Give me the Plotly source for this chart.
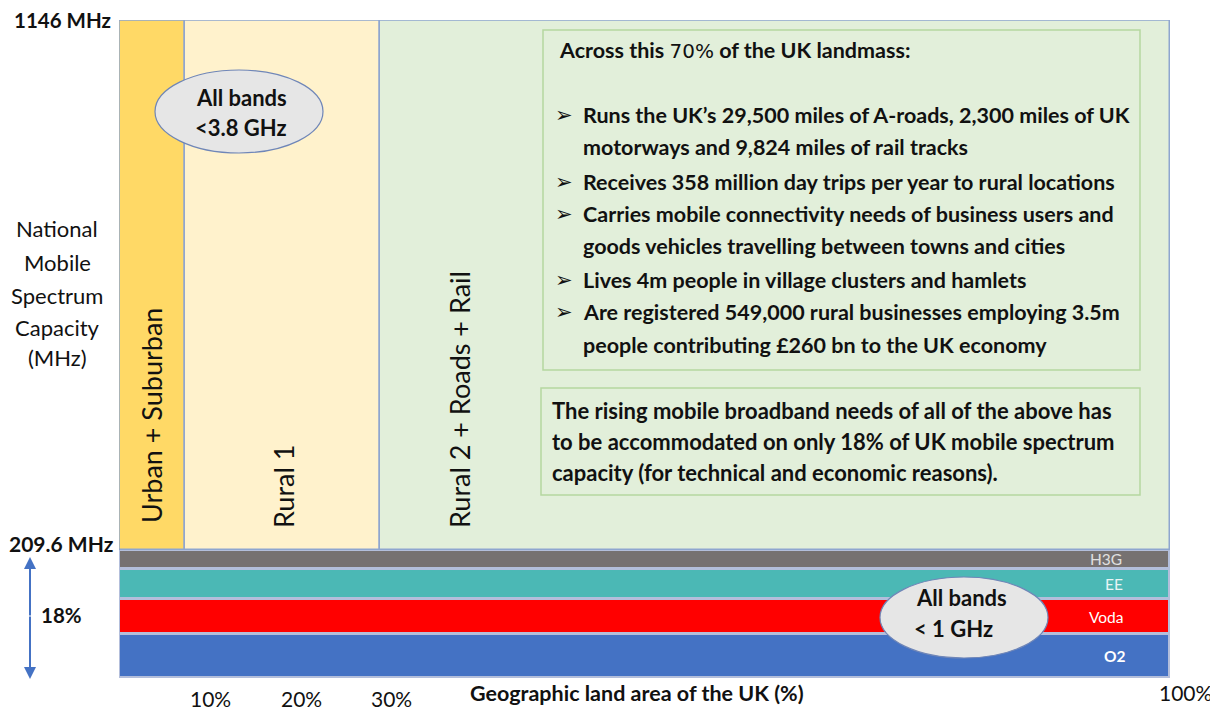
import plotly.graph_objects as go

# ---------------- data ----------------
regions = ["Urban + Suburban", "Rural 1", "Rural 2 + Roads + Rail"]
region_start = [0.0, 6.3, 24.8]          # % of UK land area
region_end = [6.3, 24.8, 100.0]
region_colors = ["#FFD966", "#FFF2CC", "#E2EFDA"]

cap_low = 209.6      # MHz (sub-1 GHz)
cap_high = 1146.0    # MHz (all bands < 3.8 GHz)

operators = ["O2", "Voda", "EE", "H3G"]            # bottom to top
operator_mhz = [72.0, 57.3, 50.0, 30.3]
operator_colors = ["#4472C4", "#FF0000", "#4BB8B5", "#767171"]
operator_text_colors = ["#FFFFFF", "#FFFFFF", "#E8F4F4", "#E0E0E0"]

tick_labels = ["10%", "20%", "30%", "100%"]

bullets = [
    "Runs the UK\u2019s 29,500 miles of A-roads, 2,300 miles of UK",
    "motorways and 9,824 miles of rail tracks",
    "Receives 358 million day trips per year to rural locations",
    "Carries mobile connectivity needs of business users and",
    "goods vehicles travelling between towns and cities",
    "Lives 4m people in village clusters and hamlets",
    "Are registered 549,000 rural businesses employing 3.5m",
    "people contributing \u00a3260 bn to the UK economy",
]
bullet_marks = [True, False, True, True, False, True, True, False]
note_lines = [
    "The rising mobile broadband needs of all of the above has",
    "to be accommodated on only 18% of UK mobile spectrum",
    "capacity (for technical and economic reasons).",
]

# ---------------- layout geometry ----------------
W, H = 1218, 713
OX, OY = 8, 8                     # page body margin offset
PL, PR, PT, PB = 119, 1170, 20, 678   # plot area in screen pixels
L, T = PL - OX, PT - OY
R = W - (PR - OX)
B = H - (PB - OY)
PW, PH = PR - PL, PB - PT
split_px = 550
split = (PB - split_px) / PH

def px(x):
    return (x - PL) / PW

def py(y):
    return (PB - y) / PH

FONT = "Lato"
INK = "#111111"

fig = go.Figure()

# upper regions
for name, s, e, c in zip(regions, region_start, region_end, region_colors):
    fig.add_trace(go.Bar(
        x=[(s + e) / 2], width=[e - s], base=[cap_low], y=[cap_high - cap_low],
        marker=dict(color=c, line=dict(color="#8FA6CF", width=1.5)),
        cliponaxis=False,
        yaxis="y", xaxis="x", showlegend=False, hoverinfo="skip", name=name))

# operator bands
base = 0.0
band_centers = []
for op, v, c in zip(operators, operator_mhz, operator_colors):
    fig.add_trace(go.Bar(
        x=[50], width=[100], base=[base], y=[v],
        marker=dict(color=c, line=dict(color="#B3BEDB", width=3)),
        cliponaxis=False,
        yaxis="y2", xaxis="x", showlegend=False, hoverinfo="skip", name=op))
    band_centers.append(base + v / 2)
    base += v

ann = []
def text(x, y, s, size=18, bold=True, color=INK, xanchor="center", angle=0, family=FONT):
    ann.append(dict(x=px(x), y=py(y), xref="paper", yref="paper", text=s, showarrow=False,
                    xanchor=xanchor, yanchor="middle", textangle=angle,
                    font=dict(family=family, size=size, color=color,
                              weight="bold" if bold else "normal")))

# operator labels
op_x = [1128, 1126, 1125, 1124]
op_bold = [True, False, False, False]
for op, yc, tc, xx, bb in zip(operators, band_centers, operator_text_colors, op_x, op_bold):
    ann.append(dict(x=px(xx), y=yc, xref="paper", yref="y2", text=op, showarrow=False,
                    font=dict(family=FONT, size=15.5, color=tc, weight="bold" if bb else "normal")))

# rotated region labels
text(152, 416, regions[0], size=27, bold=False, angle=-90)
text(283, 487, regions[1], size=27, bold=False, angle=-90)
text(459, 400, regions[2], size=27, bold=False, angle=-90)

# left labels
text(62, 20, "1146 MHz", size=20.5)
text(61, 543, "209.6 MHz", size=21)
for s, yy in zip(["National", "Mobile", "Spectrum", "Capacity", "(MHz)"], [228, 262, 295, 327, 358]):
    text(57, yy, s, size=22, bold=False)
text(61, 615, "18%", size=20.5)

# axis labels
text(637, 693, "Geographic land area of the UK (%)", size=21.5)
for s, xx, yy in zip(tick_labels, [210, 301, 391, 1185], [698, 698, 698, 692]):
    text(xx, yy, s, size=21, bold=False)

# bullet box
text(557, 50, "Across this <span style=\"font-family:'DejaVu Sans';font-weight:normal;font-size:20px\">70%</span> of the UK landmass:",
     size=21.5, xanchor="left")
for s, mark, yy in zip(bullets, bullet_marks, [115, 147, 182, 214, 246, 280, 312, 345]):
    if mark:
        text(564, yy, "\u27a2", size=21, bold=False, family="DejaVu Sans")
    text(581, yy, s, size=21.5, xanchor="left")
for s, yy in zip(note_lines, [410, 441, 472]):
    text(550, yy, s, size=22, xanchor="left")

# ellipse labels
text(241, 97, "All bands", size=22)
text(241, 127, "&lt;3.8 GHz", size=22)
text(961, 597, "All bands", size=22)
text(953, 628, "&lt; 1 GHz", size=22)

# vertical double arrow
ann.append(dict(x=px(30), y=py(557), xref="paper", yref="paper", ax=0, ay=60,
                text="", showarrow=True, arrowhead=2,
                arrowsize=1.2, arrowwidth=2, arrowcolor="#4472C4"))
ann.append(dict(x=px(30), y=py(679), xref="paper", yref="paper", ax=0, ay=-64,
                text="", showarrow=True, arrowhead=2,
                arrowsize=1.2, arrowwidth=2, arrowcolor="#4472C4"))

shapes = [
    # outline of the upper (all bands) area, from the data extent
    dict(type="rect", xref="x", yref="y", x0=region_start[0], x1=region_end[-1],
         y0=cap_low, y1=cap_high, line=dict(color="#8FA6CF", width=1.5),
         fillcolor="rgba(0,0,0,0)", layer="above"),
    dict(type="rect", xref="paper", yref="paper", x0=px(543), x1=px(1140), y0=py(30), y1=py(370),
         line=dict(color="#B5D7A0", width=1.5), fillcolor="rgba(0,0,0,0)"),
    dict(type="rect", xref="paper", yref="paper", x0=px(541), x1=px(1140), y0=py(388), y1=py(495),
         line=dict(color="#B5D7A0", width=1.5), fillcolor="rgba(0,0,0,0)"),
    dict(type="circle", xref="paper", yref="paper", x0=px(155), x1=px(323), y0=py(70), y1=py(153),
         line=dict(color="#6F86B8", width=1.2), fillcolor="#E6E6E6"),
    dict(type="circle", xref="paper", yref="paper", x0=px(880), x1=px(1048), y0=py(577), y1=py(658),
         line=dict(color="#6F86B8", width=1.2), fillcolor="#E6E6E6"),
]

fig.update_layout(
    width=W, height=H,
    margin=dict(l=L, r=R, t=T, b=B),
    paper_bgcolor="white", plot_bgcolor="white",
    barmode="overlay", bargap=0,
    xaxis=dict(range=[0, 100], visible=False, fixedrange=True),
    yaxis=dict(range=[cap_low, cap_high], domain=[split, 1], visible=False),
    yaxis2=dict(range=[0, cap_low], domain=[0, split], visible=False),
    annotations=ann, shapes=shapes,
    showlegend=False,
)

fig.write_html("out.html")
